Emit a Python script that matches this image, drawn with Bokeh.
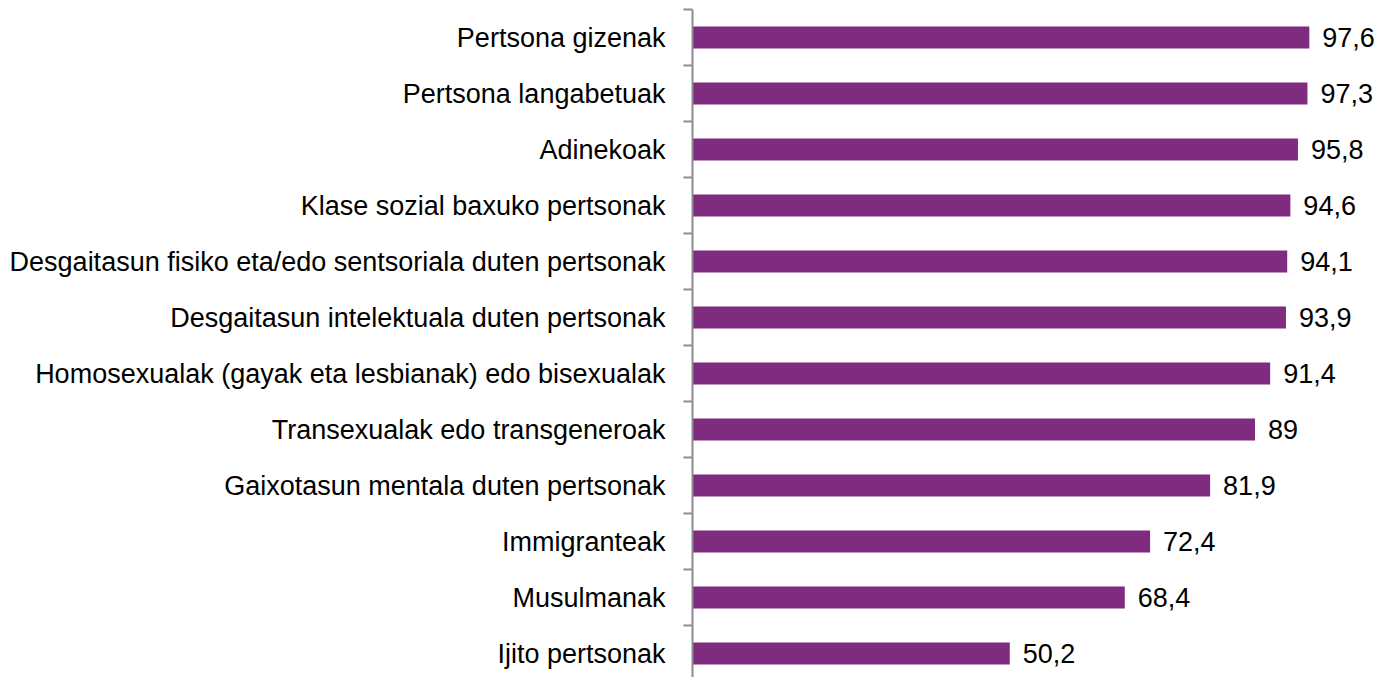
from bokeh.plotting import figure
from bokeh.models import Range1d, FixedTicker, ColumnDataSource
from bokeh.core.properties import value
from bokeh.embed import file_html
from bokeh.resources import INLINE

categories = [
    "Pertsona gizenak",
    "Pertsona langabetuak",
    "Adinekoak",
    "Klase sozial baxuko pertsonak",
    "Desgaitasun fisiko eta/edo sentsoriala duten pertsonak",
    "Desgaitasun intelektuala duten pertsonak",
    "Homosexualak (gayak eta lesbianak) edo bisexualak",
    "Transexualak edo transgeneroak",
    "Gaixotasun mentala duten pertsonak",
    "Immigranteak",
    "Musulmanak",
    "Ijito pertsonak",
]
values = [97.6, 97.3, 95.8, 94.6, 94.1, 93.9, 91.4, 89, 81.9, 72.4, 68.4, 50.2]
value_labels = ["97,6", "97,3", "95,8", "94,6", "94,1", "93,9", "91,4", "89", "81,9", "72,4", "68,4", "50,2"]

FONT = "Liberation Sans"
FS = "27px"

pos = list(range(len(categories)))
src = ColumnDataSource(dict(y=pos, v=values, lab=value_labels))

W, H = 1383, 677
LEFT = 692
TOP = 9
p = figure(width=W, height=H, output_backend="svg", toolbar_location=None,
           x_range=Range1d(0, (W - LEFT) / 6.32), y_range=Range1d(-0.5 + (H - TOP) / 56, -0.5),
           min_border_left=LEFT, min_border_right=0, min_border_top=TOP, min_border_bottom=0)
p.xaxis.visible = False
p.xgrid.visible = False
p.ygrid.visible = False
p.outline_line_color = None

p.hbar(y="y", right="v", left=0, height=0.39, source=src, color="#7E2B80", line_color=None)
p.text(x="v", y="y", text="lab", source=src, x_offset=13, text_baseline="middle",
       text_align="left", text_font=value(FONT), text_font_size=FS, text_color="black")

ax = p.yaxis[0]
ax.ticker = FixedTicker(ticks=pos, minor_ticks=[i - 0.5 for i in range(len(categories) + 1)])
ax.major_label_overrides = {i: c for i, c in enumerate(categories)}
ax.major_tick_line_color = None
ax.major_tick_out = 0
ax.major_tick_in = 0
ax.minor_tick_out = 9
ax.minor_tick_in = 0
ax.minor_tick_line_color = "#8C8C8C"
ax.minor_tick_line_width = 2
ax.axis_line_color = "#8C8C8C"
ax.axis_line_width = 2
ax.major_label_standoff = 18
ax.major_label_text_font = FONT
ax.major_label_text_font_size = FS
ax.major_label_text_color = "black"

open("out.html", "w").write(file_html(p, INLINE))
